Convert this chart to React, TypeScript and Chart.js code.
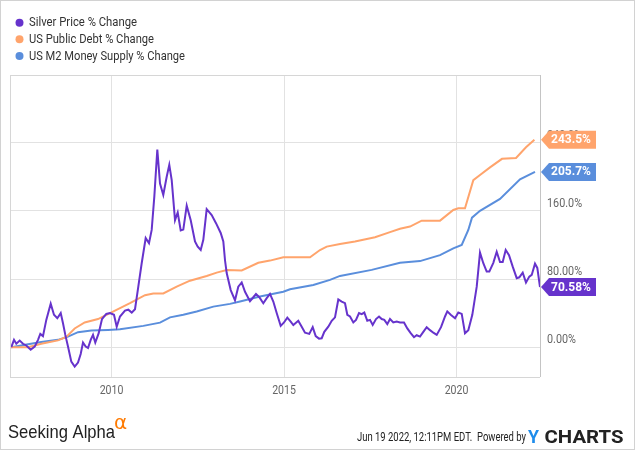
import React, { useEffect, useRef } from 'react';
import { Chart, registerables } from 'chart.js';
Chart.register(...registerables);

const seriesNames = ['Silver Price % Change', 'US Public Debt % Change', 'US M2 Money Supply % Change'];
const seriesColors = ['#6633cc', '#ffa46c', '#5a8edc'];

const silverYears = [2007.096, 2007.174, 2007.241, 2007.339, 2007.435, 2007.53, 2007.658, 2007.774, 2007.87, 2007.936, 2008.014, 2008.11, 2008.238, 2008.333, 2008.429, 2008.528, 2008.594, 2008.661, 2008.739, 2008.835, 2008.933, 2009.029, 2009.107, 2009.174, 2009.252, 2009.319, 2009.397, 2009.464, 2009.53, 2009.629, 2009.725, 2009.849, 2009.957, 2010.072, 2010.151, 2010.246, 2010.391, 2010.487, 2010.586, 2010.681, 2010.777, 2010.875, 2010.991, 2011.087, 2011.165, 2011.241, 2011.328, 2011.406, 2011.501, 2011.6, 2011.675, 2011.745, 2011.841, 2011.919, 2012.006, 2012.081, 2012.18, 2012.296, 2012.42, 2012.499, 2012.586, 2012.661, 2012.759, 2012.904, 2013.029, 2013.165, 2013.241, 2013.29, 2013.339, 2013.455, 2013.58, 2013.675, 2013.774, 2013.87, 2014.014, 2014.11, 2014.188, 2014.284, 2014.4, 2014.499, 2014.594, 2014.69, 2014.788, 2014.904, 2015.0, 2015.096, 2015.194, 2015.27, 2015.414, 2015.513, 2015.609, 2015.733, 2015.832, 2015.919, 2016.014, 2016.093, 2016.168, 2016.284, 2016.383, 2016.478, 2016.574, 2016.672, 2016.768, 2016.835, 2016.913, 2017.009, 2017.087, 2017.174, 2017.252, 2017.328, 2017.414, 2017.493, 2017.571, 2017.667, 2017.754, 2017.832, 2017.907, 2017.994, 2018.072, 2018.168, 2018.267, 2018.362, 2018.478, 2018.574, 2018.672, 2018.768, 2018.846, 2018.942, 2019.038, 2019.136, 2019.232, 2019.328, 2019.426, 2019.551, 2019.667, 2019.733, 2019.832, 2019.957, 2020.052, 2020.151, 2020.246, 2020.342, 2020.458, 2020.586, 2020.681, 2020.777, 2020.875, 2020.951, 2021.067, 2021.165, 2021.261, 2021.339, 2021.426, 2021.522, 2021.629, 2021.745, 2021.82, 2021.919, 2022.014, 2022.11, 2022.18, 2022.275, 2022.342, 2022.42];
const silverValues = [0, 8.6, 4, 7.8, 4, 2, -3, 0.7, 8.6, 15.6, 13, 32, 51, 38, 34, 40, 28, 14.4, 0.7, -17, -22.7, -18, -8, 5.4, 0.7, -1, 8.6, 14.4, 5.4, 16.4, 33, 39, 40, 38, 24, 36, 43, 44, 40.6, 44.6, 71, 98.5, 128, 122, 137.6, 176.7, 232, 192, 178.6, 200, 214, 196, 149, 158, 137, 138, 166, 149, 124, 118, 114, 126, 162, 155, 145.5, 134, 124, 102, 87, 67, 55, 71, 76, 65, 54, 58.6, 62.5, 58.6, 51.6, 57.5, 62.5, 53.5, 40, 25, 29, 34.7, 30, 26, 31, 24, 17, 15.6, 23.5, 13, 10, 10.5, 18, 24, 31, 35, 56, 53.5, 51.6, 38, 36, 29, 32, 40, 38.7, 40.6, 31, 32, 26, 33, 36, 33, 32, 27, 33, 29, 30, 29, 29, 22, 16.4, 11.7, 14, 12.4, 18, 23.5, 20, 17, 14.4, 23.5, 36, 42, 38, 34, 40.6, 39, 16.4, 20, 38, 71, 111, 98.5, 88.7, 88.7, 99, 112, 100, 100, 114, 108, 94.5, 81, 82, 87.5, 75.8, 82.8, 84.8, 98, 93, 70.58];

const debtYears = [2007.087, 2007.58, 2007.965, 2008.449, 2008.69, 2008.933, 2009.223, 2009.609, 2009.957, 2010.188, 2010.536, 2010.971, 2011.212, 2011.501, 2011.89, 2012.275, 2012.759, 2013.049, 2013.339, 2013.774, 2014.255, 2014.594, 2014.98, 2015.754, 2016.043, 2016.238, 2016.623, 2017.058, 2017.638, 2018.072, 2018.362, 2018.652, 2018.99, 2019.522, 2019.907, 2020.052, 2020.246, 2020.487, 2020.681, 2020.971, 2021.319, 2021.725, 2022.014, 2022.258];
const debtValues = [0, 0, 4, 8, 12, 22, 29, 33, 40, 44.6, 51.6, 61, 63, 63, 71, 78, 83.6, 87.5, 90.5, 90, 99, 101.6, 105.6, 105.6, 114, 118, 121, 124, 129, 135, 139, 141.5, 148.5, 148.5, 161, 163, 163, 196, 202, 211, 221, 222, 234.6, 243.5];

const m2Years = [2007.096, 2007.58, 2007.965, 2008.449, 2008.739, 2009.029, 2009.414, 2009.899, 2010.246, 2010.922, 2011.406, 2011.696, 2012.081, 2012.47, 2012.951, 2013.435, 2013.725, 2014.304, 2014.98, 2015.174, 2015.849, 2016.333, 2016.623, 2017.542, 2018.362, 2018.942, 2019.522, 2019.907, 2020.151, 2020.342, 2020.449, 2020.681, 2021.261, 2021.841, 2022.275];
const m2Values = [0, 3.5, 6, 8.6, 12.4, 17.6, 19.5, 20.3, 21, 25, 28.8, 35, 38, 41.8, 47.6, 50.8, 53.5, 59.4, 65, 68, 73, 79, 83.6, 90.7, 99, 101, 108, 116, 120, 137.6, 152, 160, 174, 197, 205.7];

const xTickYears = [2010, 2015, 2020];
const xTickLabels = ['2010', '2015', '2020'];
const yTickValues = [0, 80, 160, 240];
const yTickLabels = ['0.00%', '80.00%', '160.0%', '240.0%'];

const X_MIN = 2007.058;
const X_MAX = 2022.42;
const Y_MIN = -35;
const Y_MAX = 319.4;

function drawText(ctx: CanvasRenderingContext2D, s: string, x: number, y: number, font: string, color: string, align: CanvasTextAlign, sx: number, baseline: CanvasTextBaseline = 'middle') {
  ctx.save();
  ctx.font = font;
  ctx.fillStyle = color;
  ctx.textAlign = align;
  ctx.textBaseline = baseline;
  ctx.translate(x, y);
  ctx.scale(sx, 1);
  ctx.fillText(s, 0, 0);
  ctx.restore();
}

function fitText(ctx: CanvasRenderingContext2D, s: string, x: number, y: number, font: string, color: string, width: number, baseline: CanvasTextBaseline = 'middle') {
  ctx.save();
  ctx.font = font;
  const w = ctx.measureText(s).width;
  ctx.restore();
  drawText(ctx, s, x, y, font, color, 'left', width / w, baseline);
}

export default function App() {
  const ref = useRef<HTMLCanvasElement>(null);
  useEffect(() => {
    const canvas = ref.current!;
    const mk = (xs: number[], vs: number[]) => xs.map((x, i) => ({ x, y: vs[i] }));
    const overlay = {
      id: 'overlay',
      afterDraw(chart: any) {
        const ctx: CanvasRenderingContext2D = chart.ctx;
        const a = chart.chartArea;
        const xs = chart.scales.x;
        const ys = chart.scales.y;
        ctx.save();
        // outer border
        ctx.strokeStyle = '#d2d2d2';
        ctx.lineWidth = 1;
        ctx.strokeRect(0.5, 0.5, 634, 449);
        // frame
        ctx.strokeStyle = '#d6d6d6';
        ctx.beginPath();
        ctx.moveTo(Math.round(a.left) + 0.5, a.top);
        ctx.lineTo(Math.round(a.left) + 0.5, a.bottom);
        ctx.moveTo(a.left, Math.round(a.top) + 0.5);
        ctx.lineTo(a.right, Math.round(a.top) + 0.5);
        ctx.moveTo(a.left, Math.round(a.bottom) + 0.5);
        ctx.lineTo(a.right, Math.round(a.bottom) + 0.5);
        ctx.stroke();
        ctx.strokeStyle = '#c4c4c4';
        ctx.beginPath();
        ctx.moveTo(Math.round(a.right) + 0.5, a.top);
        ctx.lineTo(Math.round(a.right) + 0.5, a.bottom);
        ctx.stroke();
        // y labels
        yTickValues.forEach((v, i) => {
          const py = ys.getPixelForValue(v);
          drawText(ctx, yTickLabels[i], a.right + 7, py - 7, '12px Roboto', '#666', 'left', 0.9);
        });
        // x labels
        xTickYears.forEach((v, i) => {
          const px = xs.getPixelForValue(v);
          drawText(ctx, xTickLabels[i], px, a.bottom + 14, '12px Roboto', '#666', 'center', 0.88);
        });
        // tags
        const lastVals = [silverValues[silverValues.length - 1], debtValues[debtValues.length - 1], m2Values[m2Values.length - 1]];
        [1, 2, 0].forEach((k) => {
          const v = lastVals[k];
          const py = ys.getPixelForValue(v);
          const x0 = a.right + 1;
          ctx.fillStyle = seriesColors[k];
          ctx.beginPath();
          ctx.moveTo(x0, py);
          ctx.lineTo(x0 + 8, py - 9);
          ctx.lineTo(x0 + 55, py - 9);
          ctx.lineTo(x0 + 55, py + 9);
          ctx.lineTo(x0 + 8, py + 9);
          ctx.closePath();
          ctx.fill();
          drawText(ctx, v.toPrecision(4) + '%', x0 + 30, py + 0.5, 'bold 12px Roboto', '#fff', 'center', 1);
        });
        // legend
        const legendY = [22.7, 39.3, 56];
        const legendW = [108, 125, 156];
        seriesNames.forEach((n, i) => {
          ctx.fillStyle = seriesColors[i];
          ctx.beginPath();
          ctx.arc(19.5, legendY[i], 4, 0, Math.PI * 2);
          ctx.fill();
          fitText(ctx, n, 29, legendY[i] + 0.5, '13px Roboto', '#333', legendW[i]);
        });
        // footer
        fitText(ctx, 'Seeking Alpha', 8, 438, '19px "Liberation Sans"', '#222', 107, 'alphabetic');
        drawText(ctx, '\u03B1', 114, 429, '20px "DejaVu Sans"', '#ff7a00', 'left', 1, 'alphabetic');
        fitText(ctx, 'Jun 19 2022, 12:11PM EDT.  Powered by', 357, 441, '13px Roboto', '#222', 169, 'alphabetic');
        fitText(ctx, 'Y', 528, 443, 'bold 18px Roboto', '#1f8ceb', 11, 'alphabetic');
        fitText(ctx, 'CHARTS', 544.5, 443, 'bold 18px Roboto', '#222', 79, 'alphabetic');
        ctx.restore();
      },
    };
    const chart = new Chart(canvas, {
      type: 'line',
      data: {
        datasets: [
          { label: seriesNames[0], data: mk(silverYears, silverValues), borderColor: seriesColors[0], backgroundColor: seriesColors[0], borderWidth: 2, pointRadius: 0, tension: 0 },
          { label: seriesNames[1], data: mk(debtYears, debtValues), borderColor: seriesColors[1], backgroundColor: seriesColors[1], borderWidth: 2, pointRadius: 0, tension: 0 },
          { label: seriesNames[2], data: mk(m2Years, m2Values), borderColor: seriesColors[2], backgroundColor: seriesColors[2], borderWidth: 2, pointRadius: 0, tension: 0 },
        ],
      },
      options: {
        responsive: false,
        animation: false,
        devicePixelRatio: 1,
        layout: { padding: { left: 10, top: 75, right: 95, bottom: 73 } },
        plugins: { legend: { display: false }, tooltip: { enabled: false } },
        scales: {
          x: {
            type: 'linear',
            min: X_MIN,
            max: X_MAX,
            afterBuildTicks: (s: any) => { s.ticks = xTickYears.map((v) => ({ value: v })); },
            afterFit: (s: any) => { s.height = 0; },
            ticks: { display: false },
            grid: { color: '#e2e2e2', drawTicks: false, lineWidth: 1 },
            border: { display: false },
          },
          y: {
            type: 'linear',
            position: 'right',
            min: Y_MIN,
            max: Y_MAX,
            afterBuildTicks: (s: any) => { s.ticks = yTickValues.map((v) => ({ value: v })); },
            afterFit: (s: any) => { s.width = 0; },
            ticks: { display: false },
            grid: { color: '#e2e2e2', drawTicks: false, lineWidth: 1 },
            border: { display: false },
          },
        },
      } as any,
      plugins: [overlay],
    });
    return () => chart.destroy();
  }, []);
  return (
    <div style={{ position: 'fixed', left: 0, top: 0, width: 635, height: 450, background: '#fff' }}>
      <canvas ref={ref} width={635} height={450} style={{ display: 'block', width: 635, height: 450 }} />
    </div>
  );
}
